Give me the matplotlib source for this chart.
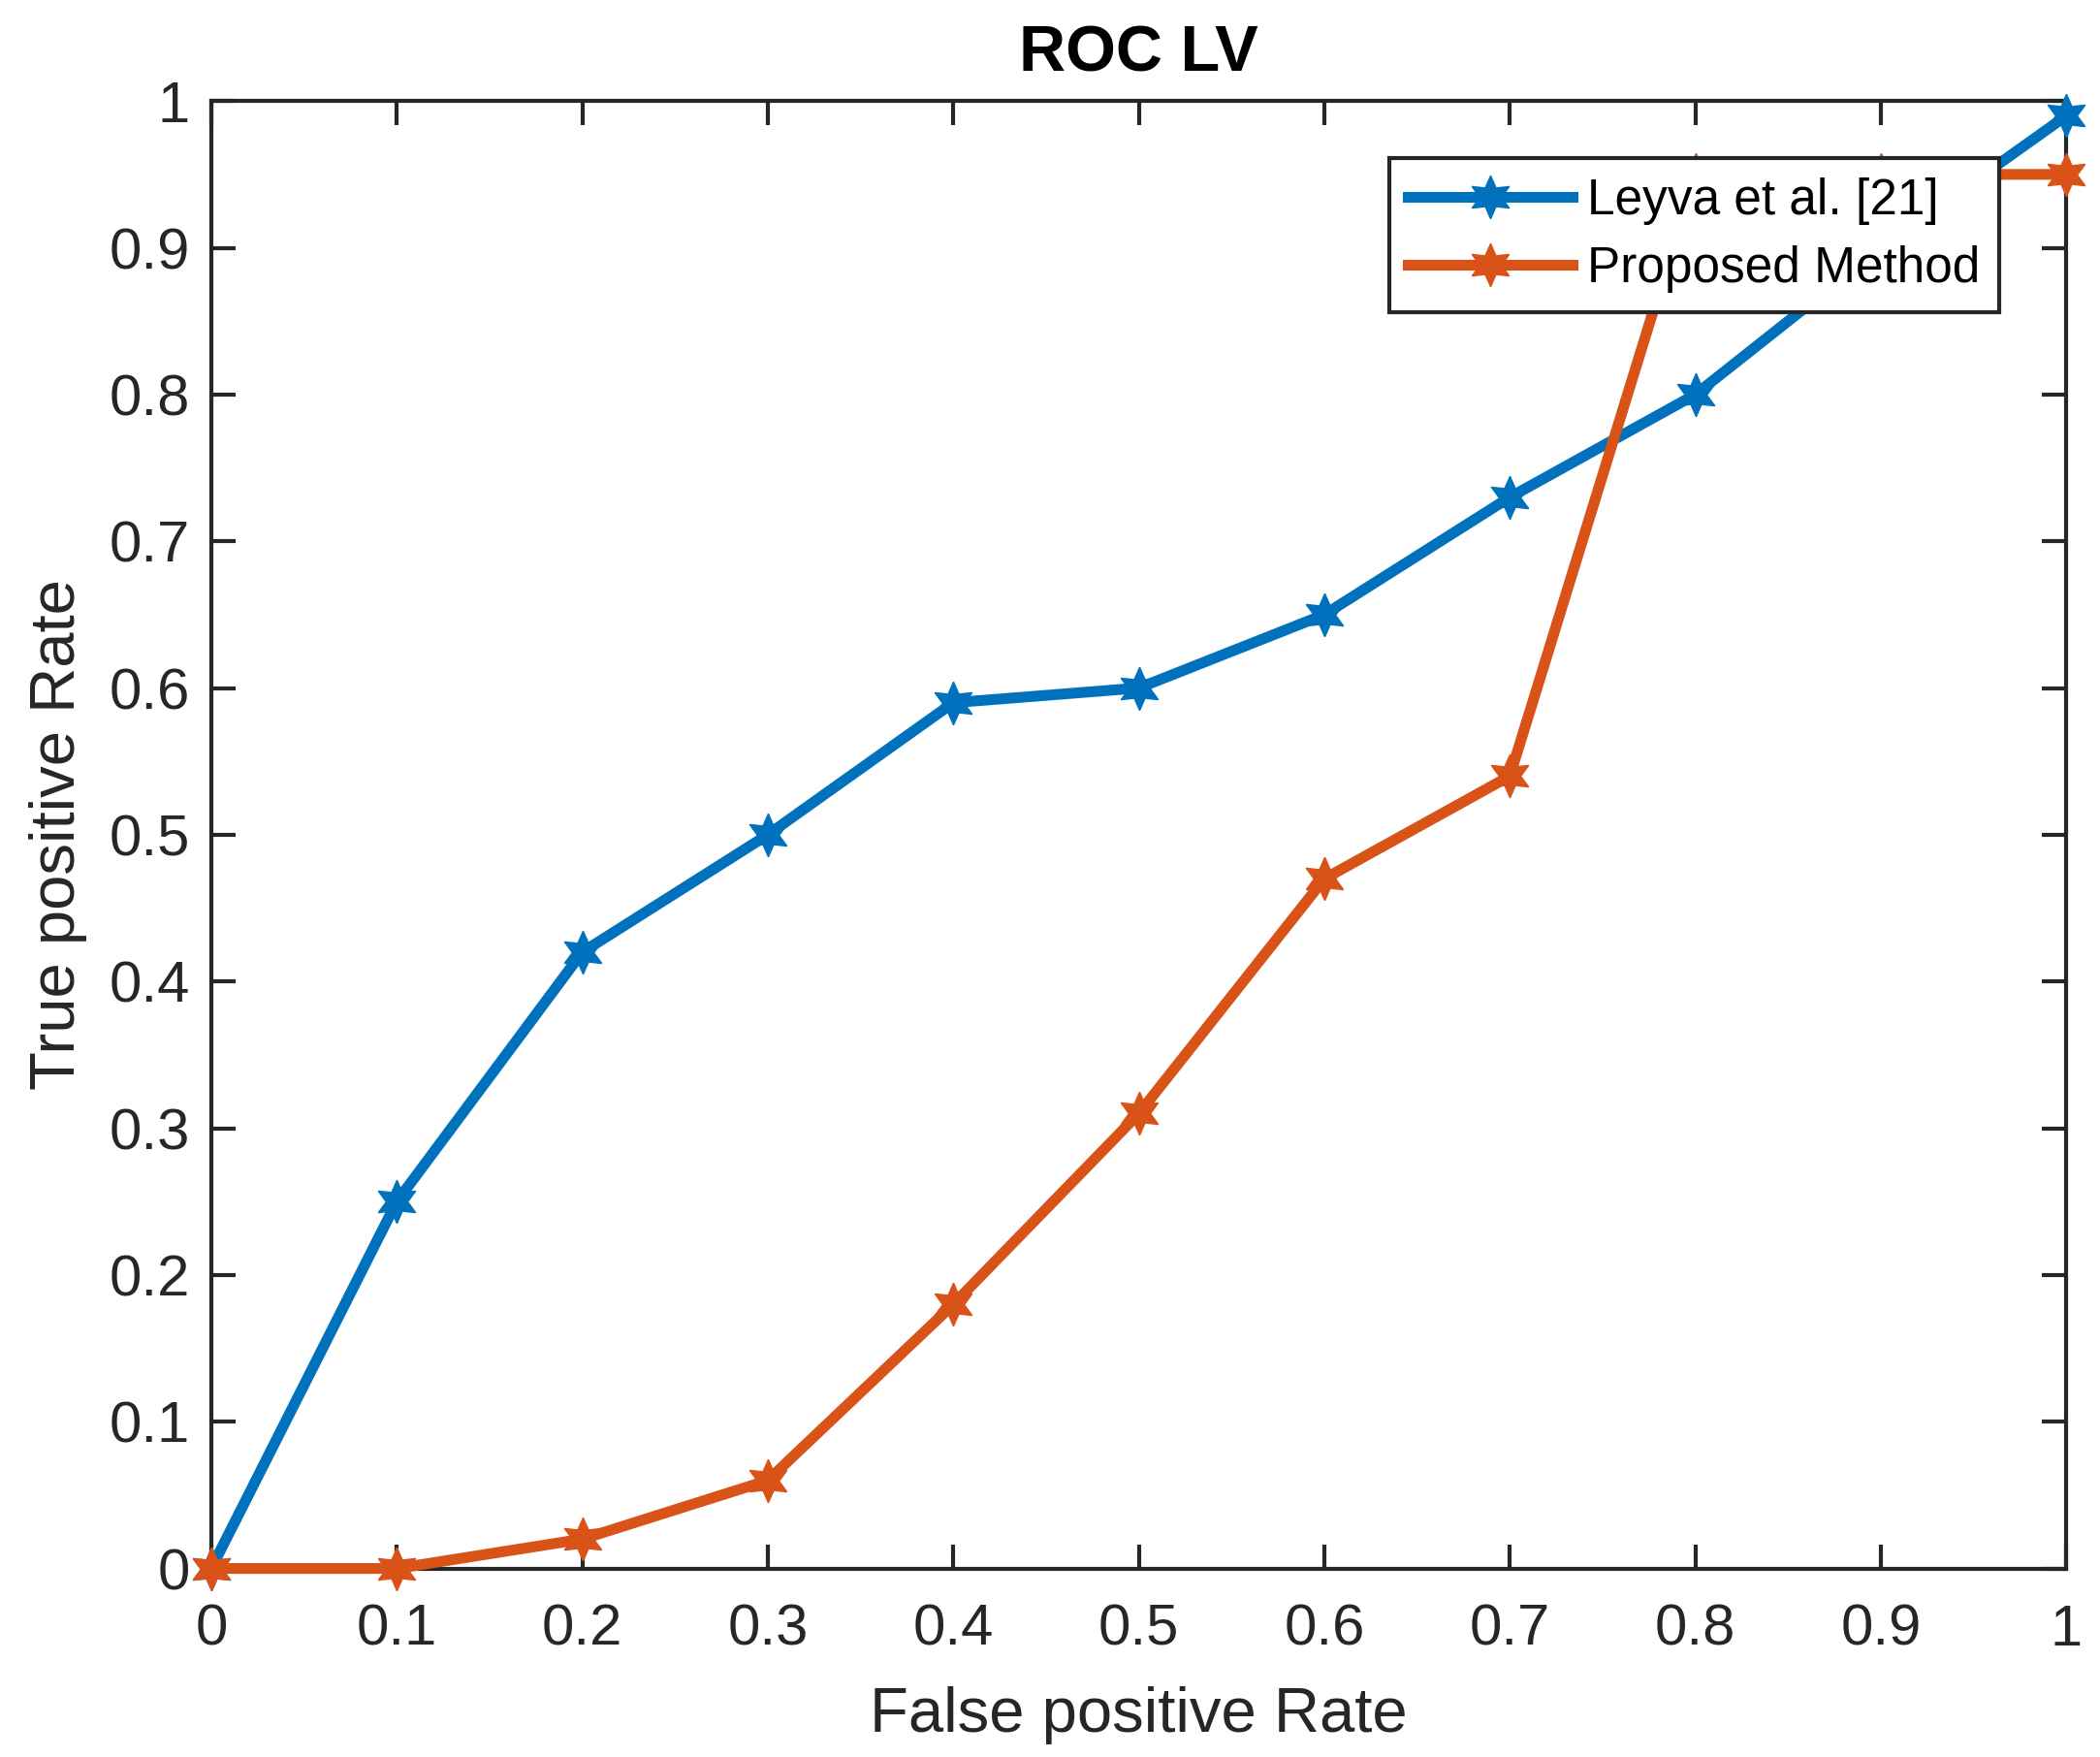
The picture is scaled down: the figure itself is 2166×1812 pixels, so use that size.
import matplotlib
matplotlib.use("Agg")
import matplotlib.pyplot as plt

fpr = [0, 0.1, 0.2, 0.3, 0.4, 0.5, 0.6, 0.7, 0.8, 0.9, 1.0]
tpr_leyva = [0, 0.25, 0.42, 0.50, 0.59, 0.60, 0.65, 0.73, 0.80, 0.90, 0.99]
tpr_proposed = [0, 0, 0.02, 0.06, 0.18, 0.31, 0.47, 0.54, 0.95, 0.95, 0.95]
labels = ["Leyva et al. [21]", "Proposed Method"]
ticks = [0, 0.1, 0.2, 0.3, 0.4, 0.5, 0.6, 0.7, 0.8, 0.9, 1]
tick_labels = ["0", "0.1", "0.2", "0.3", "0.4", "0.5", "0.6", "0.7", "0.8", "0.9", "1"]

plt.rcParams['font.family'] = ['Liberation Sans', 'DejaVu Sans']
axc = '#262626'

fig = plt.figure(figsize=(21.66, 18.12), dpi=100)
ax = fig.add_axes([0.1006, 0.1073, 0.8834, 0.8352])

mk = (6, 1, 0)
ax.plot(fpr, tpr_leyva, color='#0072BD', lw=8, marker=mk, ms=32, clip_on=False, zorder=5, label=labels[0])
ax.plot(fpr, tpr_proposed, color='#D95319', lw=8, marker=mk, ms=32, clip_on=False, zorder=5, label=labels[1])

ax.set_xlim(0, 1)
ax.set_ylim(0, 1)
ax.set_xticks(ticks)
ax.set_xticklabels(tick_labels)
ax.set_yticks(ticks)
ax.set_yticklabels(tick_labels)
ax.tick_params(direction='in', length=18, width=3, colors=axc, labelsize=43, top=True, right=True)
ax.tick_params(axis='x', pad=26)
ax.tick_params(axis='y', pad=16)
for s in ax.spines.values():
    s.set_linewidth(3)
    s.set_color(axc)

ax.set_xlabel('False positive Rate', fontsize=47, color=axc, labelpad=22)
ax.set_ylabel('True positive Rate', fontsize=47, color=axc, labelpad=16)
ax.set_title('ROC LV', fontsize=48, fontweight='bold', color='black', pad=22)

leg = ax.legend(loc='upper left', bbox_to_anchor=(0.635, 0.961), fontsize=37,
                frameon=True, fancybox=False, handlelength=3.3, borderpad=0.38,
                labelspacing=0.42, handletextpad=0.3, borderaxespad=0)
leg.get_frame().set_edgecolor(axc)
leg.get_frame().set_linewidth(3)
leg.get_frame().set_alpha(1)
leg.set_zorder(10)

fig.savefig('out.png', dpi=100, facecolor='white')
